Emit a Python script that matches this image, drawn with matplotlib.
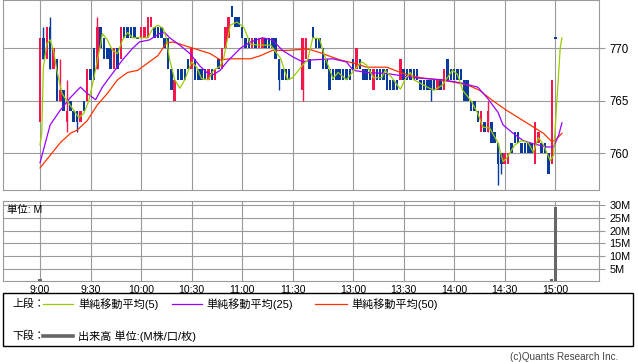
import matplotlib
matplotlib.use("Agg")
import matplotlib.pyplot as plt
from matplotlib.lines import Line2D
from matplotlib.patches import Rectangle

plt.rcParams['font.family'] = ['Liberation Sans', 'Noto Sans CJK JP']

W, H = 638, 362


def slot(t):
    # morning 9:00-11:30, short lunch gap, afternoon from 12:30
    h, m = map(int, t.split(':'))
    mins = h * 60 + m
    if mins <= 11 * 60 + 30:
        return mins - 9 * 60
    return 156 + mins - (12 * 60 + 30)


# 2-minute candles
bar_x = list(range(0, 150, 2)) + list(range(156, 308, 2))

opens = [763, 771, 769, 772, 768, 769, 765, 766, 763, 765, 764, 764, 763, 765, 765, 768,
         770, 768, 772, 771, 770, 770, 768, 770, 769, 772, 772, 772, 772, 771, 771, 771,
         771, 772, 772, 772, 772, 771, 771, 768, 765, 768, 768, 768, 769, 768, 769, 768,
         768, 768, 767, 768, 767, 769, 768, 770, 771, 774, 773, 773, 772, 771, 771, 770,
         771, 770, 770, 771, 771, 771, 771, 769, 768, 768, 768,
         766, 769, 769, 772, 771, 771, 770, 769, 768, 768, 768, 768, 768, 768, 768, 769,
         768, 769, 768, 768, 768, 766, 768, 768, 768, 768, 767, 767, 767, 767, 768, 768,
         768, 768, 768, 767, 767, 767, 767, 767, 766, 767, 766, 769, 768, 768, 768, 768,
         767, 767, 765, 765, 764, 762, 763, 762, 763, 762, 761, 760, 759, 759, 761, 762,
         762, 761, 761, 761, 761, 759, 761, 761, 761, 760, 759, 771]
closes = [771, 769, 772, 768, 770, 765, 766, 764, 764, 764, 763, 763, 764, 764, 768, 767,
          767, 772, 770, 769, 769, 768, 770, 768, 772, 771, 771, 771, 771, 771, 772, 772,
          773, 773, 771, 771, 771, 770, 768, 766, 767, 767, 767, 767, 768, 770, 767, 767,
          767, 767, 768, 767, 768, 768, 770, 772, 773, 773, 772, 772, 771, 770, 770, 771,
          770, 771, 771, 770, 770, 770, 769, 767, 767, 767, 767,
          771, 771, 768, 771, 770, 770, 768, 768, 766, 767, 767, 767, 767, 767, 767, 768,
          770, 768, 767, 767, 767, 768, 767, 767, 767, 766, 766, 766, 766, 769, 767, 767,
          767, 767, 767, 766, 766, 766, 766, 766, 767, 766, 768, 767, 767, 767, 767, 767,
          765, 765, 764, 764, 763, 764, 762, 764, 761, 761, 759, 759, 760, 760, 760, 761,
          761, 760, 760, 760, 760, 763, 762, 760, 760, 758, 767, 771]
wick_hi = {"9:02": 772, "9:06": 773, "9:12": 769, "9:16": 767, "9:34": 773, "14:20": 765}
wick_lo = {"9:16": 762, "9:22": 762, "11:22": 766, "12:30": 765, "13:46": 765,
           "14:26": 757, "14:28": 758}

vol_t = ["9:00", "14:58", "15:00"]
vol_v = [1.0, 0.9, 29.4]

ma5_t = ["9:00", "9:01", "9:02", "9:04", "9:06", "9:08", "9:10", "9:13", "9:16", "9:20",
         "9:23", "9:26", "9:29", "9:32", "9:36", "9:37", "9:40", "9:43", "9:46", "9:49",
         "9:52", "9:55", "10:04", "10:07", "10:10", "10:13", "10:15", "10:17", "10:20",
         "10:23", "10:26", "10:30", "10:33", "10:36", "10:40", "10:43", "10:47", "10:49",
         "10:53", "10:57", "11:01", "11:05", "11:10", "11:17", "11:23", "11:27", "11:30",
         "12:30", "12:33", "12:36", "12:40", "12:43", "12:48", "12:51", "12:56", "13:02",
         "13:05", "13:08", "13:12", "13:17", "13:19", "13:23", "13:28", "13:31", "13:34",
         "13:36", "13:44", "13:48", "13:53", "13:59", "14:02", "14:05", "14:10", "14:14",
         "14:17", "14:21", "14:26", "14:29", "14:31", "14:36", "14:40", "14:44", "14:47",
         "14:50", "14:53", "14:57", "14:59", "15:01", "15:03", "15:04"]
ma5_v = [760.8, 761.9, 768.2, 770.4, 770.8, 769.8, 767.9, 765.7, 765.0, 764.1,
         763.4, 763.8, 765.0, 767.2, 770.4, 771.4, 770.8, 769.8, 769.5, 770.8,
         771.5, 771.0, 771.0, 771.9, 772.2, 771.9, 771.0, 768.9, 767.0,
         766.2, 767.0, 768.7, 768.2, 767.1, 767.0, 767.9, 768.3, 769.0,
         772.2, 772.5, 772.0, 770.4, 770.3, 770.3, 769.0, 767.0, 767.2,
         768.4, 768.9, 771.0, 770.9, 769.3, 767.1, 767.7, 767.0, 768.2,
         768.7, 768.4, 767.2, 767.2, 767.9, 767.2, 766.1, 767.1, 767.7,
         767.0, 766.3, 766.0, 766.5, 767.9, 767.5, 766.0, 765.0, 763.8,
         762.5, 762.4, 761.0, 759.2, 759.5, 760.8, 761.2, 761.0, 760.1,
         761.5, 760.8, 759.3, 759.8, 765.0, 770.1, 771.0]

ma25_t = ["9:00", "9:06", "9:12", "9:18", "9:24", "9:28", "9:33", "9:37", "9:43", "9:49",
          "9:55", "9:59", "10:05", "10:11", "10:14", "10:17", "10:23", "10:29", "10:35",
          "10:39", "10:43", "10:47", "10:51", "10:59", "11:05", "11:12", "11:18", "11:24",
          "11:30", "12:30", "12:36", "12:48", "12:56", "13:00", "13:08", "13:20", "13:28",
          "13:36", "13:44", "13:53", "14:04", "14:14", "14:20", "14:26", "14:29", "14:35",
          "14:41", "14:47", "14:55", "14:59", "15:02", "15:04"]
ma25_v = [759.1, 762.7, 764.1, 765.3, 766.3, 765.7, 765.1, 766.3, 767.6, 768.9,
          770.0, 770.6, 770.8, 771.4, 771.5, 771.0, 770.3, 769.5, 768.3,
          767.7, 767.5, 767.9, 768.7, 770.0, 770.6, 771.0, 770.8, 769.8,
          769.2, 768.7, 768.9, 769.0, 768.7, 767.9, 767.7, 767.6, 767.4,
          767.2, 767.1, 767.0, 766.7, 766.3, 765.2, 763.9, 762.7, 761.9,
          761.2, 760.9, 760.6, 760.6, 761.7, 762.9]

ma50_t = ["9:00", "9:06", "9:12", "9:18", "9:22", "9:28", "9:34", "9:40", "9:46", "9:52",
          "9:58", "10:04", "10:10", "10:15", "10:19", "10:25", "10:31", "10:35", "10:41",
          "10:47", "10:53", "11:05", "11:11", "11:18", "11:27", "12:30", "12:34", "12:40",
          "12:52", "13:00", "13:08", "13:20", "13:28", "13:34", "13:40", "13:50", "13:59",
          "14:08", "14:15", "14:23", "14:31", "14:39", "14:47", "14:53", "14:58", "15:01",
          "15:04"]
ma50_v = [758.6, 759.8, 761.0, 761.9, 762.2, 763.1, 764.6, 765.7, 767.0, 767.7,
          767.9, 768.6, 769.3, 770.5, 770.6, 770.3, 770.0, 769.8, 769.5,
          768.9, 769.0, 769.0, 769.3, 769.8, 769.8, 769.9, 769.9, 769.6,
          768.9, 768.6, 768.2, 768.2, 767.7, 767.4, 767.2, 767.0, 766.8,
          766.5, 766.0, 765.0, 764.1, 763.3, 762.5, 761.9, 761.1, 761.4,
          761.9]

tick_times = ["9:00", "9:30", "10:00", "10:30", "11:00", "11:30",
              "13:00", "13:30", "14:00", "14:30", "15:00"]

UP, DOWN = '#f5164b', '#0a3a9c'
GRID = '#9a9a9a'

fig = plt.figure(figsize=(W / 100, H / 100), dpi=100)
fig.patch.set_facecolor('white')

ax = fig.add_axes([3 / W, 1 - 190 / H, 596 / W, 190 / H])
axv = fig.add_axes([3 / W, 1 - 280.5 / H, 596 / W, 79.5 / H])

# candles
time_of_slot = {}
for t_h in range(9, 16):
    for t_m in range(60):
        t = f"{t_h}:{t_m:02d}"
        time_of_slot.setdefault(slot(t), t)
for x, o, c in zip(bar_x, opens, closes):
    t = time_of_slot[x]
    hi = max(o, c, wick_hi.get(t, o))
    lo = min(o, c, wick_lo.get(t, o))
    col = UP if c > o else DOWN
    if hi > max(o, c) or lo < min(o, c):
        ax.vlines(x, lo, hi, color=col, lw=1.0, zorder=3)
    if c == o:
        ax.bar(x, 0.15, bottom=o - 0.075, width=1.9, color=col, zorder=3)
    else:
        ax.bar(x, abs(c - o), bottom=min(o, c), width=1.5, color=col, zorder=3)

ax.plot([slot(t) for t in ma50_t], ma50_v, color='#ff3300', lw=0.9, zorder=4)
ax.plot([slot(t) for t in ma25_t], ma25_v, color='#9900ff', lw=0.9, zorder=4)
ax.plot([slot(t) for t in ma5_t], ma5_v, color='#99cc00', lw=0.9, zorder=5)

axv.bar([slot(t) for t in vol_t], vol_v, width=1.9, color='#666666', zorder=3)

for a in (ax, axv):
    a.set_xlim(-22, 332)
    a.set_xticks([slot(t) for t in tick_times])
    a.grid(True, color=GRID, lw=0.8, zorder=0)
    for s in a.spines.values():
        s.set_color(GRID)
        s.set_linewidth(0.8)
    a.yaxis.tick_right()
    a.tick_params(axis='y', length=4, width=0.8, color=GRID, pad=3.5)
    a.tick_params(axis='x', length=0)

ax.set_ylim(756.5, 774.6)
ax.set_yticks([760, 765, 770])
ax.set_yticklabels(['760', '765', '770'], fontsize=8.3)
ax.set_xticklabels([])

axv.set_ylim(0.5, 31.55)
axv.set_yticks([5, 10, 15, 20, 25, 30])
axv.set_yticklabels(['5M', '10M', '15M', '20M', '25M', '30M'], fontsize=7.8)
axv.set_xticklabels(tick_times, fontsize=7.6)
axv.tick_params(axis='x', pad=3)

fig.text(7 / W, 1 - 209.5 / H, '単位: M', fontsize=7.5, va='center', ha='left')

# legend box
fig.add_artist(Rectangle((3 / W, 1 - 346 / H), 630 / W, 53 / H, transform=fig.transFigure,
                         fill=False, edgecolor='black', lw=1.0))
y1, y2 = 1 - 304 / H, 1 - 336 / H
fig.text(12 / W, y1, '上段：', fontsize=7.8, va='center')
fig.text(12 / W, y2, '下段：', fontsize=7.8, va='center')
for (x0, x1), col, label, tx in [((43, 73), '#99cc00', '単純移動平均(5)', 78),
                                 ((172, 202), '#9900ff', '単純移動平均(25)', 206),
                                 ((315, 347), '#ff3300', '単純移動平均(50)', 351)]:
    fig.add_artist(Line2D([x0 / W, x1 / W], [y1, y1], color=col, lw=0.9,
                          transform=fig.transFigure))
    fig.text(tx / W, y1, label, fontsize=8.0, va='center')
fig.add_artist(Line2D([43 / W, 73 / W], [y2, y2], color='#666666', lw=2.6,
                      transform=fig.transFigure))
fig.text(78 / W, y2, '出来高 単位:(M株/口/枚)', fontsize=8.0, va='center')

fig.text(618 / W, 1 - 357 / H, '(c)Quants Research Inc.', fontsize=7.2, ha='right',
         va='center', color='#444444')

fig.savefig('out.png', dpi=100)
